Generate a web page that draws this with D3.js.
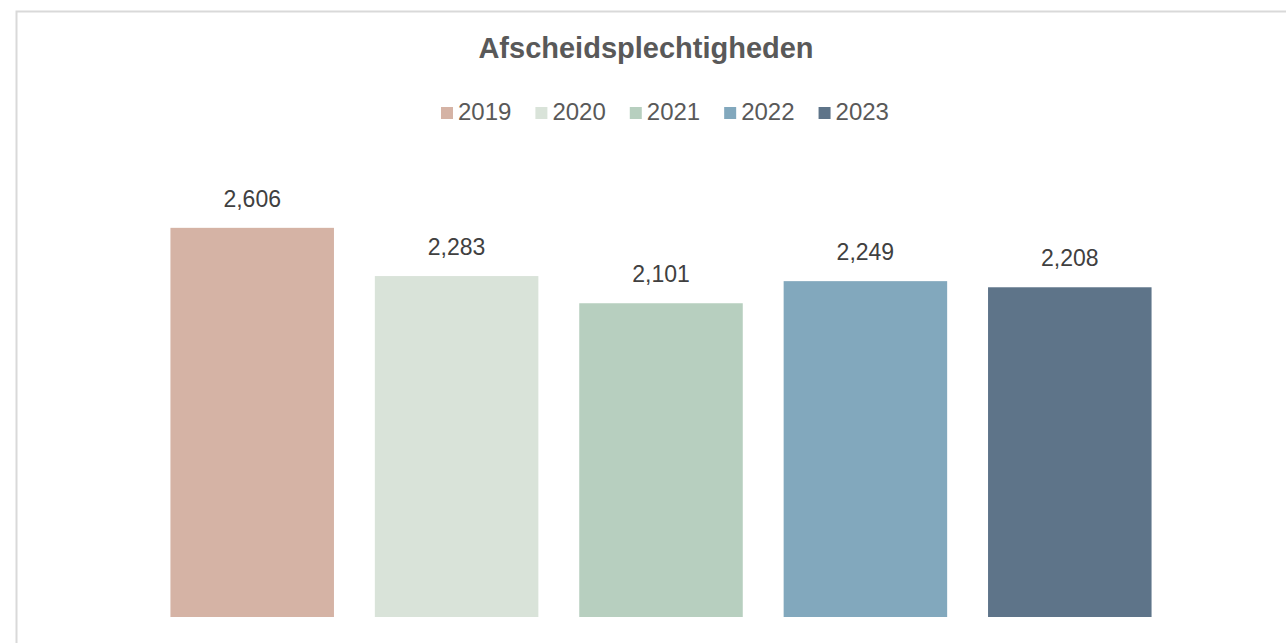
<!DOCTYPE html>
<html>
<head>
<meta charset="utf-8">
<script src="https://cdn.jsdelivr.net/npm/d3@7"></script>
<style>
  body { margin: 0; background: #fff; }
  svg { display: block; font-family: "Liberation Sans", Arial, sans-serif; }
</style>
</head>
<body>
<svg id="chart" width="1286" height="643"></svg>
<script>
// Data
var years = ['2019', '2020', '2021', '2022', '2023'];
var values = [2606, 2283, 2101, 2249, 2208];
var colors = ['#d5b3a5', '#d9e3d9', '#b7cfbf', '#82a8bd', '#5e7489'];
var chartTitle = 'Afscheidsplechtigheden';

var svg = d3.select('#chart');

// chart frame, runs off the right and bottom edge
svg.append('rect')
  .attr('x', 16.5).attr('y', 11.5)
  .attr('width', 1400).attr('height', 800)
  .attr('fill', '#fff')
  .attr('stroke', '#d9d9d9')
  .attr('stroke-width', 2);

var x = d3.scaleBand()
  .domain(years)
  .range([150, 1172])
  .paddingInner(0.2)
  .paddingOuter(0.1);

var y = d3.scaleLinear()
  .domain([0, 3000])
  .range([617, 169]);

var fmt = d3.format(',');
var color = d3.scaleOrdinal().domain(years).range(colors);

var rows = years.map(function(yr, i) { return { year: yr, value: values[i] }; });

// bars
svg.selectAll('rect.bar')
  .data(rows)
  .enter().append('rect')
  .attr('class', 'bar')
  .attr('x', function(d) { return x(d.year); })
  .attr('y', function(d) { return y(d.value); })
  .attr('width', x.bandwidth())
  .attr('height', function(d) { return y(0) - y(d.value); })
  .attr('fill', function(d) { return color(d.year); });

// value labels
svg.selectAll('text.val')
  .data(rows)
  .enter().append('text')
  .attr('class', 'val')
  .attr('x', function(d) { return x(d.year) + x.bandwidth() / 2; })
  .attr('y', function(d) { return y(d.value) - 21; })
  .attr('text-anchor', 'middle')
  .attr('font-size', 23)
  .attr('fill', '#404040')
  .text(function(d) { return fmt(d.value); });

// title
svg.append('text')
  .attr('x', 646).attr('y', 58)
  .attr('text-anchor', 'middle')
  .attr('font-size', 29)
  .attr('font-weight', 'bold')
  .attr('fill', '#595959')
  .text(chartTitle);

// legend
var lx = 441;
years.forEach(function(yr) {
  var g = svg.append('g').attr('transform', 'translate(' + lx + ',0)');
  g.append('rect')
    .attr('x', 0).attr('y', 107)
    .attr('width', 12).attr('height', 12)
    .attr('fill', color(yr));
  var t = g.append('text')
    .attr('x', 17).attr('y', 120)
    .attr('font-size', 24)
    .attr('fill', '#595959')
    .text(yr);
  lx += 17 + t.node().getComputedTextLength() + 24;
});
</script>
</body>
</html>
